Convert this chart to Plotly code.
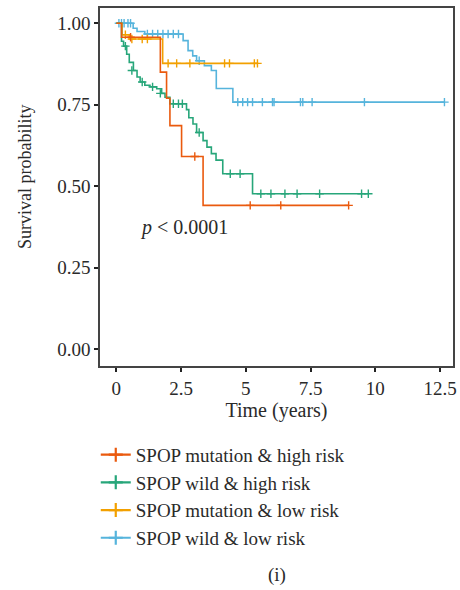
import plotly.graph_objects as go

# ---- data ----
groups = ["SPOP mutation & high risk", "SPOP wild & high risk",
          "SPOP mutation & low risk", "SPOP wild & low risk"]
colors = ["#EA5A0E", "#27A67A", "#F2A000", "#56B4DC"]

# step curves: times and survival after each step
red_t = [0, 0.2, 1.7, 1.94, 2.07, 2.52, 3.35, 8.97]
red_s = [1.0, 0.957, 0.85, 0.77, 0.686, 0.591, 0.441, 0.441]
red_ct = [0.55, 3.03, 5.17, 6.35, 8.97]
red_cs = [0.957, 0.591, 0.441, 0.441, 0.441]

grn_t = [0, 0.2, 0.28, 0.4, 0.5, 0.66, 0.8, 0.92, 1.1, 1.3, 1.56, 1.75, 1.88, 2.07,
         2.71, 2.8, 2.96, 3.1, 3.35, 3.5, 3.67, 3.85, 4.11, 5.26, 9.73]
grn_s = [1.0, 0.945, 0.93, 0.905, 0.88, 0.855, 0.835, 0.82, 0.81, 0.805, 0.799, 0.785,
         0.773, 0.753, 0.735, 0.71, 0.691, 0.665, 0.64, 0.62, 0.6, 0.58, 0.538, 0.477, 0.477]
grn_ct = [0.35, 0.6, 1.0, 1.4, 1.7, 2.2, 2.4, 2.55, 3.2, 4.4, 4.78, 5.58, 5.97, 6.51,
          6.98, 7.85, 9.47, 9.73]
grn_cs = [0.93, 0.855, 0.82, 0.805, 0.785, 0.753, 0.753, 0.753, 0.665, 0.538, 0.538,
          0.477, 0.477, 0.477, 0.477, 0.477, 0.477, 0.477]

org_t = [0, 0.22, 0.5, 1.79, 5.45]
org_s = [1.0, 0.965, 0.952, 0.877, 0.877]
org_ct = [0.35, 0.6, 1.0, 1.2, 2.0, 2.33, 2.84, 4.18, 4.37, 5.33, 5.45]
org_cs = [0.965, 0.952, 0.952, 0.952, 0.877, 0.877, 0.877, 0.877, 0.877, 0.877, 0.877]

blu_t = [0, 0.65, 0.8, 1.1, 2.58, 2.77, 2.95, 3.1, 3.4, 3.67, 3.86, 4.5, 12.67]
blu_s = [1.0, 0.985, 0.975, 0.967, 0.947, 0.916, 0.9, 0.885, 0.87, 0.855, 0.80, 0.758, 0.758]
blu_ct = [0.1, 0.2, 0.3, 0.45, 0.55, 1.2, 1.4, 1.6, 1.8, 2.0, 2.2, 2.4, 3.2, 4.69, 4.88,
          5.07, 5.26, 5.64, 6.03, 6.09, 7.11, 7.2, 7.56, 9.58, 12.67]
blu_cs = [1.0, 1.0, 1.0, 1.0, 1.0, 0.967, 0.967, 0.967, 0.967, 0.967, 0.967, 0.967, 0.885,
          0.758, 0.758, 0.758, 0.758, 0.758, 0.758, 0.758, 0.758, 0.758, 0.758, 0.758, 0.758]

x_ticks = [0, 2.5, 5, 7.5, 10, 12.5]
x_ticklabels = ["0", "2.5", "5", "7.5", "10", "12.5"]
y_ticks = [0, 0.25, 0.5, 0.75, 1.0]
y_ticklabels = ["0.00", "0.25", "0.50", "0.75", "1.00"]

curves = [(red_t, red_s, red_ct, red_cs), (grn_t, grn_s, grn_ct, grn_cs),
          (org_t, org_s, org_ct, org_cs), (blu_t, blu_s, blu_ct, blu_cs)]

FONT = "Liberation Serif"
TXT = "#2a2a2a"
fig = go.Figure()
# draw in reverse order so red is on top like the reference
for i in [3, 2, 1, 0]:
    t, s, ct, cs = curves[i]
    fig.add_trace(go.Scatter(x=t, y=s, mode="lines", line=dict(color=colors[i], width=1.6, shape="hv"),
                             showlegend=False, hoverinfo="skip"))
    fig.add_trace(go.Scatter(x=ct, y=cs, mode="markers",
                             marker=dict(symbol="cross-thin", size=6, line=dict(color=colors[i], width=1.4)),
                             showlegend=False, hoverinfo="skip"))
for i in range(4):
    fig.add_trace(go.Scatter(x=[None], y=[None], mode="lines+markers", name=groups[i],
                             line=dict(color=colors[i], width=2.2),
                             marker=dict(symbol="cross-thin", size=10, line=dict(color=colors[i], width=2.2))))

fig.add_annotation(x=0.84, y=0.374, xref="x", yref="y", xanchor="left", yanchor="middle",
                   text="<i>p</i> < 0.0001", showarrow=False, font=dict(family=FONT, size=20, color=TXT))
fig.add_annotation(x=0.5, y=0.0, xref="paper", yref="paper", yshift=-222, xanchor="center",
                   text="(i)", showarrow=False, font=dict(family=FONT, size=19, color=TXT))
fig.add_annotation(x=0.0, y=0.5, xref="paper", yref="paper", xshift=-75, yshift=10,
                   xanchor="center", yanchor="middle", textangle=-90,
                   text="Survival probability", showarrow=False, font=dict(family=FONT, size=18, color=TXT))

axis_common = dict(showgrid=False, zeroline=False, showline=True, linecolor="#444", linewidth=1.5,
                   mirror=True, ticks="outside", ticklen=4, tickwidth=1.5, tickcolor="#222",
                   tickfont=dict(family=FONT, size=19, color=TXT))
fig.update_layout(
    width=460, height=590,
    margin=dict(l=100, r=3, t=8, b=224),
    plot_bgcolor="white", paper_bgcolor="white",
    xaxis=dict(range=[-0.63, 13.0], tickvals=x_ticks, ticktext=x_ticklabels,
               title=dict(text="Time (years)", font=dict(family=FONT, size=20, color=TXT), standoff=4),
               **axis_common),
    yaxis=dict(range=[-0.052, 1.047], tickvals=y_ticks, ticktext=y_ticklabels, **axis_common),
    legend=dict(x=-0.012, y=-0.195, xanchor="left", yanchor="top", font=dict(family=FONT, size=19, color=TXT),
                tracegroupgap=0, itemwidth=30, bgcolor="rgba(0,0,0,0)"),
)
fig.write_html("out.html")
